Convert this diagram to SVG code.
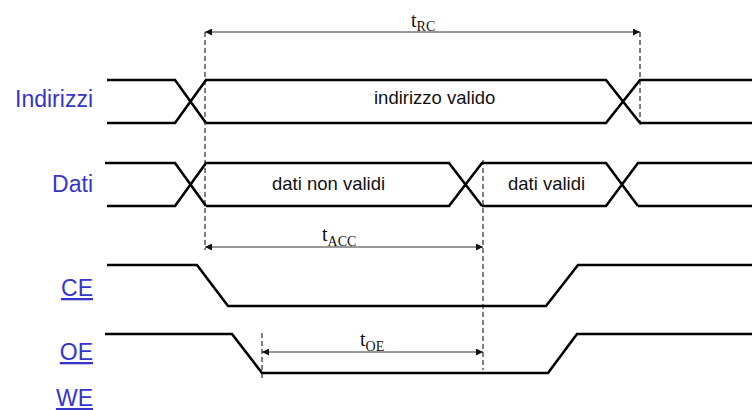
<svg xmlns="http://www.w3.org/2000/svg" width="752" height="410" viewBox="0 0 752 410">
<style>
.sig{fill:none;stroke:#000;stroke-width:2.6;stroke-linejoin:miter}
.dash{fill:none;stroke:#000;stroke-width:1;stroke-dasharray:5,3}
.arr{fill:none;stroke:#333;stroke-width:1.2;marker-start:url(#ah);marker-end:url(#ah)}
.lbl{font-family:"Liberation Sans",Arial,sans-serif;font-size:23px;fill:#3535cc;text-anchor:end}
.u{text-decoration:underline}
.in{font-family:"Liberation Sans",Arial,sans-serif;font-size:18.5px;fill:#111}
.t{font-family:"Liberation Serif","Times New Roman",serif;font-size:20px;fill:#111}
.sub{font-size:14px}
</style>
<defs>
<marker id="ah" viewBox="0 0 10 10" refX="10" refY="5" markerWidth="7" markerHeight="7" markerUnits="userSpaceOnUse" orient="auto-start-reverse">
<path d="M0,0 L10,5 L0,10 Z" fill="#111"/>
</marker>
</defs>
<g id="labels">
<text class="lbl" x="93" y="107">Indirizzi</text>
<text class="lbl" x="93" y="192">Dati</text>
<text class="lbl u" x="93" y="296">CE</text>
<text class="lbl u" x="93" y="360">OE</text>
<text class="lbl u" x="93" y="406">WE</text>
</g>
<g id="indirizzi">
<path class="sig" d="M107,80 H175 L206,123 M107,123 H175 L206,80 H606 L640,123 M206,123 H606 L640,80 H752 M640,123 H752"/>
<text class="in" x="374" y="104">indirizzo valido</text>
</g>
<g id="dati">
<path class="sig" d="M105,163 H175 L206,206 M107,206 H175 L206,163 H449 L482,206 M206,206 H449 L482,163 H606 L638,206 M482,206 H606 L638,163 H752 M638,206 H752"/>
<text class="in" x="272" y="190">dati non validi</text>
<text class="in" x="508" y="190">dati validi</text>
</g>
<g id="ce">
<path class="sig" d="M107,265 H197 L228,306 H546 L578,265 H752"/>
</g>
<g id="oe">
<path class="sig" d="M105,334 H232 L262,373 H548 L577,334 H752"/>
</g>
<g id="connectors">
<line class="dash" x1="205" y1="32" x2="205" y2="250"/>
<line class="dash" x1="640" y1="32" x2="640" y2="125"/>
<line class="dash" x1="483" y1="160" x2="483" y2="370"/>
<line class="dash" x1="262" y1="333" x2="262" y2="380"/>
<line class="arr" x1="205" y1="32" x2="640" y2="32"/>
<line class="arr" x1="205" y1="247" x2="483" y2="247"/>
<line class="arr" x1="262" y1="352" x2="483" y2="352"/>
</g>
<g id="times">
<text class="t" x="411" y="27">t<tspan class="sub" dy="4">RC</tspan></text>
<text class="t" x="322" y="241">t<tspan class="sub" dy="5">ACC</tspan></text>
<text class="t" x="360" y="346">t<tspan class="sub" dy="5">OE</tspan></text>
</g>
</svg>
